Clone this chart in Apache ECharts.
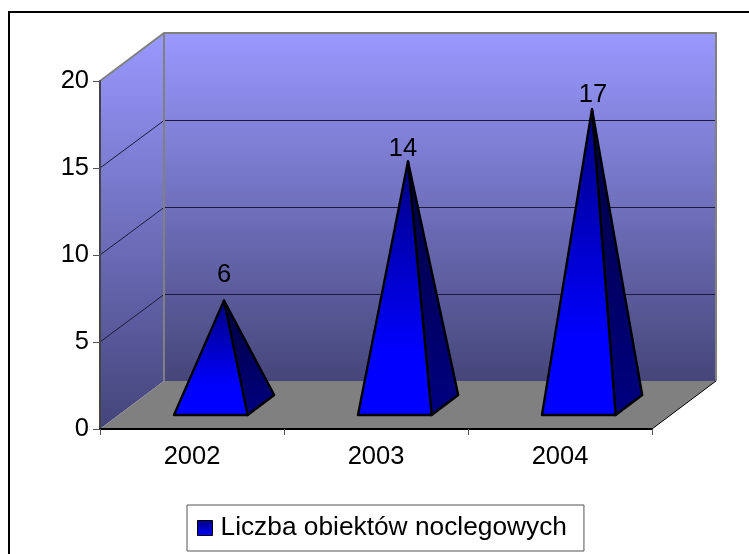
<!DOCTYPE html>
<html>
<head>
<meta charset="utf-8">
<style>html,body{margin:0;padding:0;background:#fff}#c{width:749px;height:554px}</style>
<script src="https://cdn.jsdelivr.net/npm/echarts@6/dist/echarts.min.js"></script>
</head>
<body>
<div id="c"></div>
<script>
const categories = ['2002', '2003', '2004'];
const values = [6, 14, 17];
const yTicks = [0, 5, 10, 15, 20];
const seriesName = 'Liczba obiektów noclegowych';

const FONT = '"Liberation Sans", Arial, sans-serif';
const FS = 25.5;
const DEPTH = { x: 64, y: -48 };
const PYR = { frontDx: 18.8, frontDy: -14, halfW: 36.8, sideX: 26.6, sideY: -20, apexDx: 32, apexDy: -24 };
const LABEL_NUDGE = [{ x: 0, y: -26 }, { x: -5, y: -12 }, { x: 1, y: -14 }];

const vGrad = (a, b) => ({ type: 'linear', x: 0, y: 0, x2: 0, y2: 1, colorStops: [{ offset: 0, color: a }, { offset: 1, color: b }] });
const frontGrad = { type: 'linear', x: 0, y: 0, x2: 0, y2: 1, colorStops: [{ offset: 0, color: '#000080' }, { offset: 0.75, color: '#0000ff' }, { offset: 1, color: '#0000ff' }] };

function renderWalls(params, api) {
  const cs = params.coordSys;
  const L = cs.x, R = cs.x + cs.width;
  const yOf = v => api.coord([0, v])[1];
  const y0 = yOf(0), yT = yOf(20);
  const dx = DEPTH.x, dy = DEPTH.y;
  const children = [
    { type: 'polygon', shape: { points: [[L, y0], [L, yT], [L + dx, yT + dy], [L + dx, y0 + dy]] },
      style: { fill: vGrad('#9999ff', '#44447a'), stroke: null } },
    { type: 'rect', shape: { x: L + dx, y: yT + dy, width: cs.width, height: y0 - yT },
      style: { fill: vGrad('#9999ff', '#46467a'), stroke: null } },
    { type: 'polygon', shape: { points: [[L, y0], [R, y0], [R + dx, y0 + dy], [L + dx, y0 + dy]] },
      style: { fill: '#808080', stroke: null } }
  ];
  yTicks.forEach(v => {
    const y = yOf(v);
    if (v > 0 && v < 20) {
      children.push({ type: 'polyline', shape: { points: [[L, y], [L + dx, y + dy + 0.5], [R + dx, y + dy + 0.5]] },
        style: { fill: null, stroke: '#1a1a40', lineWidth: 1 } });
    }
  });
  const edge = { fill: null, stroke: '#808080', lineWidth: 2 };
  children.push({ type: 'polyline', shape: { points: [[L, yT], [L + dx, yT + dy], [R + dx, yT + dy], [R + dx, y0 + dy]] }, style: edge });
  children.push({ type: 'line', shape: { x1: L + dx, y1: yT + dy, x2: L + dx, y2: y0 + dy }, style: edge });
  children.push({ type: 'polyline', shape: { points: [[R + dx, y0 + dy], [R, y0]] }, style: { fill: null, stroke: '#000', lineWidth: 1 } });
  return { type: 'group', children };
}

function renderPyramid(params, api) {
  const i = api.value(0), v = api.value(1);
  const base = api.coord([i, 0]);
  const top = api.coord([i, v]);
  const cx = base[0], y0 = base[1];
  const fc = cx + PYR.frontDx, fy = y0 + PYR.frontDy;
  const FL = [fc - PYR.halfW, fy], FR = [fc + PYR.halfW, fy];
  const BR = [FR[0] + PYR.sideX, fy + PYR.sideY];
  const apex = [cx + PYR.apexDx, top[1] + PYR.apexDy];
  const n = LABEL_NUDGE[i];
  return { type: 'group', children: [
    { type: 'polygon', shape: { points: [FR, BR, apex] },
      style: { fill: vGrad('#000040', '#000080'), stroke: '#000', lineWidth: 2.4, lineJoin: 'round' } },
    { type: 'polygon', shape: { points: [FL, FR, apex] },
      style: { fill: frontGrad, stroke: '#000', lineWidth: 2.4, lineJoin: 'round' } },
    { type: 'text', style: { x: apex[0] + n.x, y: apex[1] + n.y, text: String(v), fill: '#000',
      font: FS + 'px ' + FONT, align: 'center', verticalAlign: 'middle' } }
  ] };
}

const chart = echarts.init(document.getElementById('c'), null, { renderer: 'canvas' });
chart.setOption({
  animation: false,
  backgroundColor: '#fff',
  textStyle: { fontFamily: FONT },
  graphic: [{ type: 'rect', left: 8, top: 11, z: -1, silent: true,
    shape: { x: 0, y: 0, width: 760, height: 560 },
    style: { fill: '#fff', stroke: '#000', lineWidth: 2 } }],
  grid: { left: 100, top: 81, width: 552, height: 348, containLabel: false },
  legend: {
    show: true, left: 187, top: 505,
    padding: [10, 17, 10, 10],
    borderColor: '#555', borderWidth: 1, backgroundColor: '#fff',
    itemWidth: 15, itemHeight: 15, itemGap: 0,
    icon: 'rect',
    textStyle: { fontSize: 26.3, color: '#000', fontFamily: FONT, padding: [0, 0, 0, 3] },
    data: [{ name: seriesName, itemStyle: { color: vGrad('#000080', '#0000ff'), borderColor: '#000', borderWidth: 1 } }]
  },
  xAxis: {
    type: 'category', data: categories, z: 5,
    axisLine: { lineStyle: { color: '#000', width: 2 } },
    axisTick: { show: true, alignWithLabel: false, length: 6, lineStyle: { color: '#555' } },
    axisLabel: { fontSize: FS, color: '#000', margin: 15, fontFamily: FONT },
    splitLine: { show: false }
  },
  yAxis: {
    type: 'value', min: 0, max: 20, interval: 5, z: 5,
    axisLine: { show: true, lineStyle: { color: '#444', width: 2 } },
    axisTick: { show: true, length: 7, lineStyle: { color: '#555' } },
    axisLabel: { fontSize: FS, color: '#000', margin: 11, fontFamily: FONT },
    splitLine: { show: false }
  },
  series: [
    { type: 'custom', name: 'walls', z: 1, silent: true, renderItem: renderWalls, data: [[0, 0]], clip: false },
    { type: 'custom', name: seriesName, z: 2, renderItem: renderPyramid, clip: false,
      encode: { x: 0, y: 1 },
      itemStyle: { color: '#0000ff' },
      data: categories.map((c, i) => [i, values[i]]) }
  ]
});
</script>
</body>
</html>
